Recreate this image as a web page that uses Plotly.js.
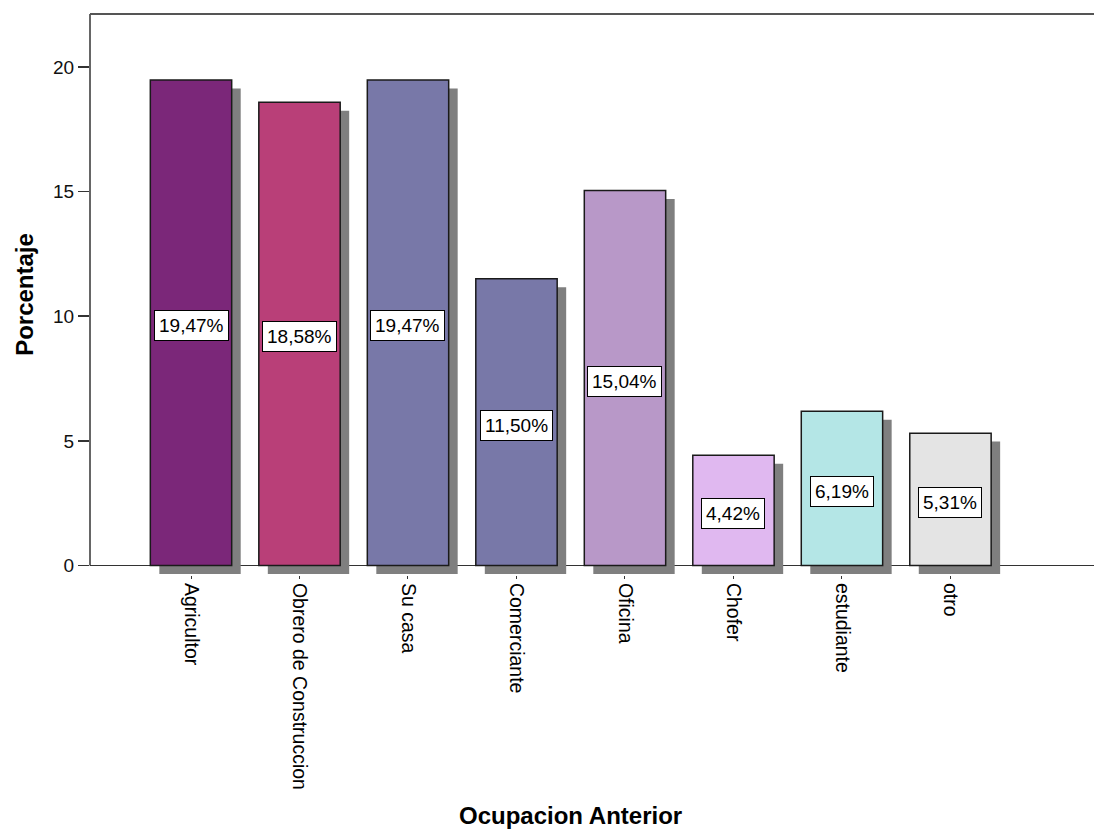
<!DOCTYPE html>
<html>
<head>
<meta charset="utf-8">
<script src="https://cdn.plot.ly/plotly-3.0.1.min.js"></script>
<style>html,body{margin:0;padding:0;background:#fff;}#chart{width:1094px;height:831px;}</style>
</head>
<body>
<div id="chart"></div>
<script>
const categories = ["Agricultor", "Obrero de Construccion", "Su casa", "Comerciante", "Oficina", "Chofer", "estudiante", "otro"];
const percentages = [19.47, 18.58, 19.47, 11.50, 15.04, 4.42, 6.19, 5.31];
const barColors = ["#7B2779", "#B93F78", "#7878A8", "#7878A8", "#B898C8", "#E0B8F0", "#B4E6E6", "#E4E4E4"];
const yTicks = [0, 5, 10, 15, 20];

const idx = categories.map((c, i) => i);
const BW = 0.75;
const SHX = 0.083;   // shadow offset in x units
const SHY = 0.34;    // shadow offset in y units
const FONT = 'Arial, Liberation Sans, sans-serif';

const shadow = {
  type: 'bar', x: idx, y: percentages, base: -SHY,
  width: BW, offset: -BW / 2 + SHX,
  marker: {color: '#7F7F7F', line: {width: 0}},
  hoverinfo: 'skip', showlegend: false
};
const bars = {
  type: 'bar', x: idx, y: percentages,
  width: BW, offset: -BW / 2,
  marker: {color: barColors, line: {color: '#1a1a1a', width: 1.5}},
  showlegend: false
};

const annotations = percentages.map((v, i) => ({
  x: i, y: v / 2, xref: 'x', yref: 'y',
  text: v.toFixed(2).replace('.', ',') + '%',
  showarrow: false, yshift: -3,
  font: {family: FONT, size: 19, color: '#000'},
  bgcolor: '#ffffff', bordercolor: '#000000', borderwidth: 1, borderpad: 4
}));
annotations.push({
  x: 0.479, y: 0, xref: 'paper', yref: 'paper', yanchor: 'bottom',
  yshift: -256, text: '<b>Ocupacion Anterior</b>', showarrow: false,
  font: {family: FONT, size: 24, color: '#000'}
});

const yMax = 22.12;
const layout = {
  width: 1094, height: 831,
  margin: {l: 90, r: 0, t: 14, b: 256},
  paper_bgcolor: '#fff', plot_bgcolor: '#fff',
  barmode: 'overlay',
  xaxis: {
    range: [-0.931, 8.323], tickvals: idx, ticktext: categories,
    tickangle: 90, showgrid: false, zeroline: false, showline: false,
    ticks: 'outside', ticklen: 3, tickcolor: '#333', tickwidth: 1,
    tickfont: {family: FONT, size: 19.5, color: '#000'}
  },
  yaxis: {
    range: [-SHY - 0.04, yMax], tickvals: yTicks, ticktext: yTicks.map(String),
    showgrid: false, zeroline: true, zerolinecolor: '#333', zerolinewidth: 1.5,
    showline: false, ticks: 'outside', ticklen: 11, tickcolor: '#333', tickwidth: 1.5,
    tickfont: {family: FONT, size: 19, color: '#111'},
    title: {text: '<b>Porcentaje</b>', standoff: 12,
      font: {family: FONT, size: 24, color: '#000'}}
  },
  shapes: [
    {type: 'line', xref: 'paper', yref: 'y', x0: 0, x1: 0, y0: 0, y1: yMax,
     line: {color: '#333', width: 1.5}},
    {type: 'line', xref: 'paper', yref: 'paper', x0: 0, x1: 1, y0: 1, y1: 1,
     line: {color: '#555', width: 2}}
  ],
  annotations: annotations
};

Plotly.newPlot('chart', [shadow, bars], layout, {displayModeBar: false, staticPlot: true});
</script>
</body>
</html>
